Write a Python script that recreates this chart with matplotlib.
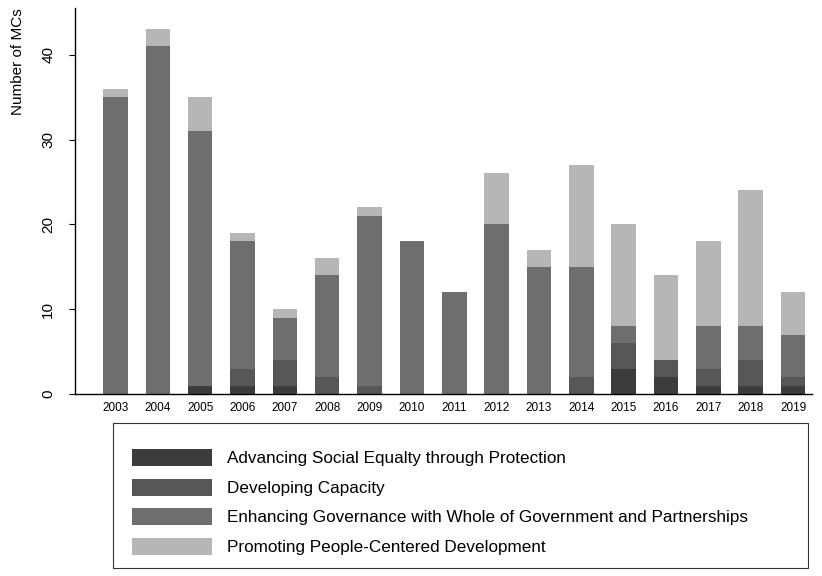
import matplotlib
matplotlib.use("Agg")
import matplotlib.pyplot as plt
import numpy as np
from matplotlib.patches import Rectangle

plt.rcParams["font.family"] = ["Liberation Sans", "DejaVu Sans"]

years = [str(y) for y in range(2003, 2020)]
series_names = [
    "Advancing Social Equalty through Protection",
    "Developing Capacity",
    "Enhancing Governance with Whole of Government and Partnerships",
    "Promoting People-Centered Development",
]
advancing  = [0, 0, 1, 1, 1, 0, 0, 0, 0, 0, 0, 0, 3, 2, 1, 1, 1]
developing = [0, 0, 0, 2, 3, 2, 1, 0, 0, 0, 0, 2, 3, 2, 2, 3, 1]
enhancing  = [35, 41, 30, 15, 5, 12, 20, 18, 12, 20, 15, 13, 2, 0, 5, 4, 5]
promoting  = [1, 2, 4, 1, 1, 2, 1, 0, 0, 6, 2, 12, 12, 10, 10, 16, 5]
colors = ["#3c3c3c", "#575757", "#6e6e6e", "#b6b6b6"]

fig = plt.figure(figsize=(8.22, 5.76), dpi=100)
ax = fig.add_axes([0.091, 0.316, 0.897, 0.67])

x = np.arange(len(years))
bottom = np.zeros(len(years))
handles = []
for vals, col, name in zip([advancing, developing, enhancing, promoting],
                           colors, series_names):
    b = ax.bar(x, vals, bottom=bottom, width=0.58, color=col, label=name,
               linewidth=0)
    handles.append(b)
    bottom += np.array(vals)

ax.set_xlim(-0.96, 16.45)
ax.set_ylim(0, 45.5)
ax.set_yticks([0, 10, 20, 30, 40])
ax.set_yticklabels(["0", "10", "20", "30", "40"], rotation=90, va="center",
                   fontsize=11)
ax.set_xticks(x)
ax.set_xticklabels(years, fontsize=8.5)
ax.tick_params(axis="x", length=0, pad=6)
ax.tick_params(axis="y", length=4, width=0.8, pad=10)
ax.set_ylabel("Number of MCs", fontsize=11, loc="top")
ax.yaxis.set_label_coords(-0.068, 1.0)
ax.spines["top"].set_visible(False)
ax.spines["right"].set_visible(False)
ax.spines["bottom"].set_linewidth(1.0)
ax.spines["left"].set_linewidth(1.0)

# legend box below the plot
fig.patches.append(Rectangle((113 / 822, 1 - 568 / 576), (808 - 113) / 822,
                             (568 - 423) / 576, transform=fig.transFigure,
                             fill=False, edgecolor="#333333", linewidth=0.8))
fig.legend(handles=handles, labels=series_names, loc="upper left",
           bbox_to_anchor=(132 / 822, 1 - 449 / 576), frameon=False,
           fontsize=12.3, handlelength=4.7, handleheight=1.15,
           labelspacing=0.72, handletextpad=0.85, borderpad=0,
           borderaxespad=0)

fig.savefig("out.png", dpi=100)
